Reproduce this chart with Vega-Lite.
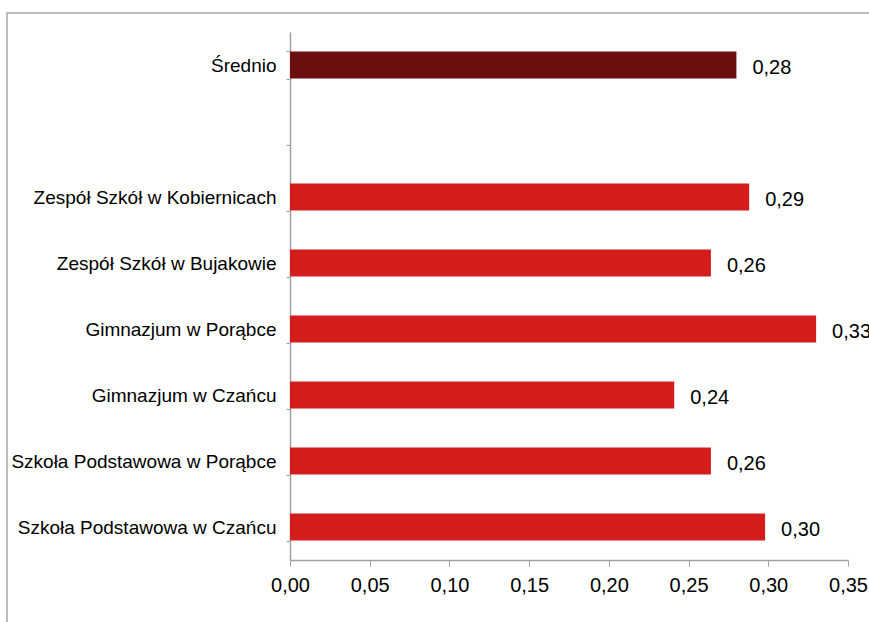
{
  "$schema": "https://vega.github.io/schema/vega-lite/v6.json",
  "autosize": "none",
  "padding": {"left": 7, "top": 13, "right": 0, "bottom": 0},
  "width": 875,
  "height": 625,
  "config": {
    "locale": {"number": {"decimal": ",", "thousands": " ", "grouping": [3], "currency": ["", " zł"]}},
    "view": {"stroke": "#a6a6a6", "strokeWidth": 1.5},
    "font": "Liberation Sans"
  },
  "data": {
    "values": [
      {"szkola": "Średnio", "wartosc": 0.280},
      {"szkola": "Zespół Szkół w Kobiernicach", "wartosc": 0.288},
      {"szkola": "Zespół Szkół w Bujakowie", "wartosc": 0.264},
      {"szkola": "Gimnazjum w Porąbce", "wartosc": 0.330},
      {"szkola": "Gimnazjum w Czańcu", "wartosc": 0.241},
      {"szkola": "Szkoła Podstawowa w Porąbce", "wartosc": 0.264},
      {"szkola": "Szkoła Podstawowa w Czańcu", "wartosc": 0.298}
    ]
  },
  "encoding": {
    "y": {
      "field": "szkola",
      "type": "nominal",
      "scale": {
        "domain": ["Średnio", " ", "Zespół Szkół w Kobiernicach", "Zespół Szkół w Bujakowie", "Gimnazjum w Porąbce", "Gimnazjum w Czańcu", "Szkoła Podstawowa w Porąbce", "Szkoła Podstawowa w Czańcu"],
        "range": [19, 547],
        "paddingInner": 0.59,
        "paddingOuter": 0.295
      },
      "axis": {
        "title": null,
        "offset": -283,
        "tickBand": "extent",
        "tickSize": 4,
        "tickColor": "#a0a0a0",
        "domainColor": "#a0a0a0",
        "domainWidth": 1.5,
        "labelFontSize": 19,
        "labelColor": "#000000",
        "labelPadding": 10,
        "labelLimit": 400
      }
    },
    "x": {
      "field": "wartosc",
      "type": "quantitative",
      "scale": {"domain": [0, 0.35], "range": [283, 841], "nice": false, "zero": true},
      "axis": {
        "title": null,
        "offset": -78,
        "values": [0, 0.05, 0.1, 0.15, 0.2, 0.25, 0.3, 0.35],
        "format": ".2f",
        "grid": false,
        "tickSize": 6,
        "tickColor": "#a0a0a0",
        "domainColor": "#a0a0a0",
        "domainWidth": 1.5,
        "labelFontSize": 20,
        "labelColor": "#000000",
        "labelPadding": 9,
        "labelFlush": false
      }
    }
  },
  "layer": [
    {
      "mark": {"type": "bar"},
      "encoding": {
        "color": {
          "condition": {"test": "datum.szkola === 'Średnio'", "value": "#6a0e0e"},
          "value": "#d41c1c"
        }
      }
    },
    {
      "mark": {"type": "text", "align": "left", "baseline": "middle", "dx": 16, "dy": 3, "fontSize": 20, "color": "#000000"},
      "encoding": {
        "text": {"field": "wartosc", "type": "quantitative", "format": ".2f"}
      }
    }
  ]
}
